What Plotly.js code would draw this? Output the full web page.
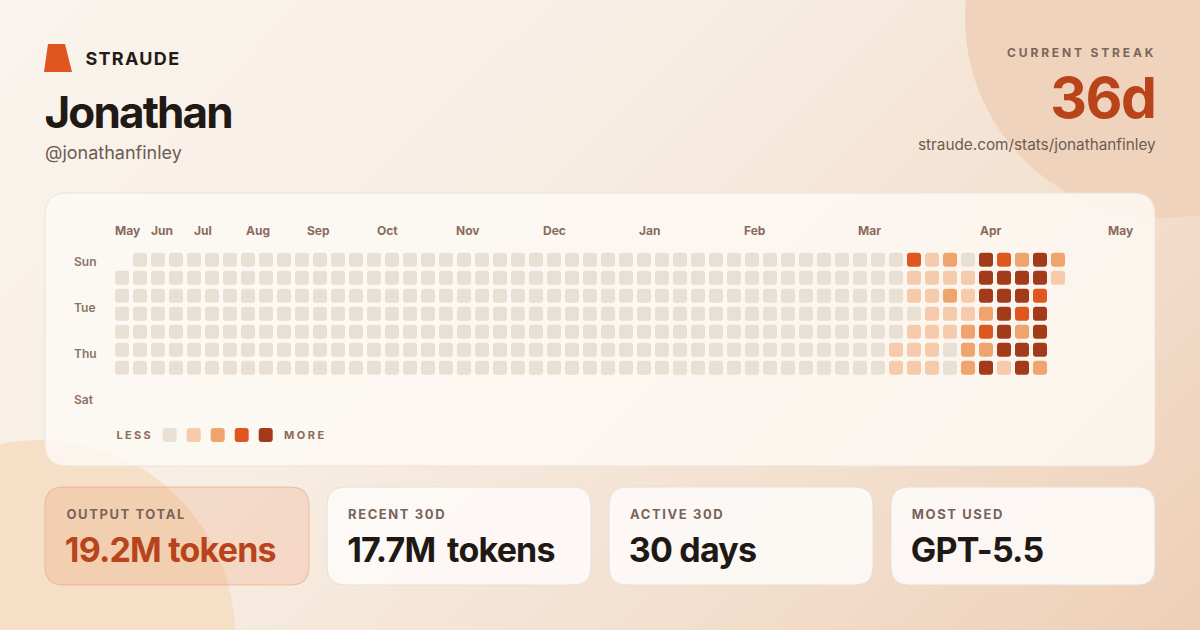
<!DOCTYPE html>
<html><head><meta charset="utf-8">
<script src="https://cdn.plot.ly/plotly-3.0.1.min.js"></script>
<style>
html,body{margin:0;padding:0;}
body{width:1200px;height:630px;overflow:hidden;background:linear-gradient(135deg,#faf4ee 0%,#f7ede3 40%,#f3e0cf 70%,#eecfb7 100%);}
#chart{width:1200px;height:630px;}
.scatterlayer path.point{stroke-linejoin:round;}
</style></head><body><div id="chart"></div>
<script>
// ---- data ----
const weekdays = ['Sun','Mon','Tue','Wed','Thu','Fri','Sat'];
const dayLabels = ['Sun','Tue','Thu','Sat'];
const levelColors = ['#e8e0d5','#f5cbab','#f0a46d','#e0561f','#a33b1b'];
const levelsSun = [null,0,0,0,0,0,0,0,0,0,0,0,0,0,0,0,0,0,0,0,0,0,0,0,0,0,0,0,0,0,0,0,0,0,0,0,0,0, 0,0,0,0,0,0,3,1,2,0,4,3,2,4,2];
const levelsMon = [0,0,0,0,0,0,0,0,0,0,0,0,0,0,0,0,0,0,0,0,0,0,0,0,0,0,0,0,0,0,0,0,0,0,0,0,0,0, 0,0,0,0,0,0,1,1,1,1,4,4,4,4,1];
const levelsTue = [0,0,0,0,0,0,0,0,0,0,0,0,0,0,0,0,0,0,0,0,0,0,0,0,0,0,0,0,0,0,0,0,0,0,0,0,0,0, 0,0,0,0,0,0,1,1,2,1,4,4,4,3,null];
const levelsWed = [0,0,0,0,0,0,0,0,0,0,0,0,0,0,0,0,0,0,0,0,0,0,0,0,0,0,0,0,0,0,0,0,0,0,0,0,0,0, 0,0,0,0,0,0,0,1,1,1,2,4,3,4,null];
const levelsThu = [0,0,0,0,0,0,0,0,0,0,0,0,0,0,0,0,0,0,0,0,0,0,0,0,0,0,0,0,0,0,0,0,0,0,0,0,0,0, 0,0,0,0,0,0,1,1,1,2,3,4,2,4,null];
const levelsFri = [0,0,0,0,0,0,0,0,0,0,0,0,0,0,0,0,0,0,0,0,0,0,0,0,0,0,0,0,0,0,0,0,0,0,0,0,0,0, 0,0,0,0,0,1,1,1,0,2,2,4,4,4,null];
const levelsSat = [0,0,0,0,0,0,0,0,0,0,0,0,0,0,0,0,0,0,0,0,0,0,0,0,0,0,0,0,0,0,0,0,0,0,0,0,0,0, 0,0,0,0,0,1,1,1,0,2,4,1,4,2,null];
const monthNames = ['May','Jun','Jul','Aug','Sep','Oct','Nov','Dec','Jan','Feb','Mar','Apr','May'];
const monthPos = [0.31,2.22,4.5,7.56,10.94,14.75,19.17,24.0,29.3,35.17,41.5,48.28,55.5];
const statLabels = ['OUTPUT TOTAL','RECENT 30D','ACTIVE 30D','MOST USED'];
const statValues = ['19.2M tokens','17.7M\u2009 tokens','30 days','GPT-5.5'];
const brand = 'STRAUDE';
const userName = 'Jonathan';
const handle = '@jonathanfinley';
const streakLabel = 'CURRENT STREAK';
const streakValue = '36d';
const profileUrl = 'straude.com/stats/jonathanfinley';

// ---- build ----
const rows = [levelsSun,levelsMon,levelsTue,levelsWed,levelsThu,levelsFri,levelsSat];
const cx=[], cy=[], cc=[], ct=[];
rows.forEach((row,r)=>row.forEach((v,c)=>{
  if(v===null) return;
  cx.push(c); cy.push(r); cc.push(levelColors[v]); ct.push(weekdays[r]+' wk '+(c+1)+': level '+v);
}));

const F='Inter, "Noto Sans", sans-serif';
function rr(x0,y0,x1,y1,r){
  return `M${x0+r},${y0} H${x1-r} Q${x1},${y0} ${x1},${y0+r} V${y1-r} Q${x1},${y1} ${x1-r},${y1} H${x0+r} Q${x0},${y1} ${x0},${y1-r} V${y0+r} Q${x0},${y0} ${x0+r},${y0} Z`;
}
const shapes=[
  {type:'circle',xref:'x2',yref:'y2',x0:1165-200,x1:1165+200,y0:18-200,y1:18+200,fillcolor:'#f0d3bd',line:{width:0},layer:'below'},
  {type:'circle',xref:'x2',yref:'y2',x0:40-195,x1:40+195,y0:635-195,y1:635+195,fillcolor:'#f5dfc7',line:{width:0},layer:'below'},
  {type:'path',xref:'x2',yref:'y2',path:'M48,44 L65,44 L72,72 L44,72 Z',fillcolor:'#e0561f',line:{width:0},layer:'below'},
  {type:'path',xref:'x2',yref:'y2',path:rr(45,193,1155,466,22),fillcolor:'rgba(253,249,245,0.85)',line:{color:'rgba(238,226,216,1)',width:1},layer:'below'}
];
const cardX=[45,327,609,891];
statLabels.forEach((s,i)=>{
  shapes.push({type:'path',xref:'x2',yref:'y2',path:rr(cardX[i],487,cardX[i]+264,585,18),
    fillcolor: i===0?'rgba(236,150,105,0.22)':'rgba(253,250,247,0.92)',
    line:{color: i===0?'rgba(234,160,120,0.6)':'rgba(232,222,214,1)',width:1},layer:'below'});
});

const ann=[]; const spacing={};
// letter-spacing is applied with CSS; Plotly measures without it, so compensate the anchor
function A(o,ls){
  const a=Object.assign({xref:'x2',yref:'y2',showarrow:false},o);
  if(ls!==undefined){
    const n=[...a.text].length, d=n*ls/2;
    a.x += (a.xanchor==='right') ? -d : d;
    spacing[ann.length]=ls;
  }
  ann.push(a);
}
A({x:83,y:58,xanchor:'left',yanchor:'middle',text:brand,font:{family:F,size:18,weight:700,color:'#231b16'}},1.3);
A({x:42,y:112,xanchor:'left',yanchor:'middle',text:userName,font:{family:F,size:44,weight:700,color:'#211914'}},-1.85);
A({x:43,y:152,xanchor:'left',yanchor:'middle',text:handle,font:{family:F,size:18,weight:400,color:'#6d5c52'}});
A({x:1158.5,y:52,xanchor:'right',yanchor:'middle',text:streakLabel,font:{family:F,size:12,weight:700,color:'#7c6659'}},2.85);
A({x:1157.5,y:97,xanchor:'right',yanchor:'middle',text:streakValue,font:{family:F,size:57,weight:700,color:'#b9441c'}},-1.5);
A({x:1158,y:144,xanchor:'right',yanchor:'middle',text:profileUrl,font:{family:F,size:15.3,weight:400,color:'#6d5c52'}});
dayLabels.forEach((d,i)=>A({x:72,y:261+46*i,xanchor:'left',yanchor:'middle',text:d,font:{family:F,size:12,weight:600,color:'#8d7262'}}));
monthNames.forEach((m,i)=>ann.push({xref:'x',yref:'y2',x:monthPos[i],y:230,xanchor:'center',yanchor:'middle',showarrow:false,text:m,font:{family:F,size:12,weight:700,color:'#8a6b5b'}}));
A({x:114,y:435,xanchor:'left',yanchor:'middle',text:'LESS',font:{family:F,size:11,weight:700,color:'#8a6b5b'}},2.3);
A({x:282,y:435,xanchor:'left',yanchor:'middle',text:'MORE',font:{family:F,size:11,weight:700,color:'#8a6b5b'}},2.5);
statLabels.forEach((s,i)=>{
  A({x:cardX[i]+19,y:514,xanchor:'left',yanchor:'middle',text:s,font:{family:F,size:13,weight:700,color:'#78645a'}},1.6);
  A({x:cardX[i]+18,y:549,xanchor:'left',yanchor:'middle',text:statValues[i],font:{family:F,size:34,weight:700,color:i===0?'#b9441c':'#1f1915'}},-0.8);
});
let css='';
Object.keys(spacing).forEach(k=>{css+=`.annotation[data-index="${k}"] text{letter-spacing:${spacing[k]}px;}\n`;});
const st=document.createElement('style'); st.textContent=css; document.head.appendChild(st);

const legX0=169.7, legStep=24;
const traces=[
  {type:'scatter',mode:'markers',x:cx,y:cy,text:ct,hoverinfo:'text',xaxis:'x',yaxis:'y',
   marker:{symbol:'square',size:8,color:cc,line:{color:cc,width:6}},showlegend:false},
  {type:'scatter',mode:'markers',x:levelColors.map((c,i)=>legX0+legStep*i),y:levelColors.map(()=>435),xaxis:'x2',yaxis:'y2',
   hoverinfo:'skip',marker:{symbol:'square',size:8,color:levelColors,line:{color:levelColors,width:6}},showlegend:false}
];
const layout={
  width:1200,height:630,margin:{l:0,r:0,t:0,b:0},
  paper_bgcolor:'rgba(0,0,0,0)',plot_bgcolor:'rgba(0,0,0,0)',
  xaxis:{range:[-122/18,1078/18],visible:false,fixedrange:true},
  yaxis:{range:[(630-259.7)/18,-259.7/18],visible:false,fixedrange:true},
  xaxis2:{range:[0,1200],overlaying:'x',anchor:'y2',visible:false,fixedrange:true},
  yaxis2:{range:[630,0],overlaying:'y',anchor:'x2',visible:false,fixedrange:true},
  shapes:shapes,annotations:ann,showlegend:false
};
Plotly.newPlot('chart',traces,layout,{displayModeBar:false,staticPlot:true});
</script></body></html>
